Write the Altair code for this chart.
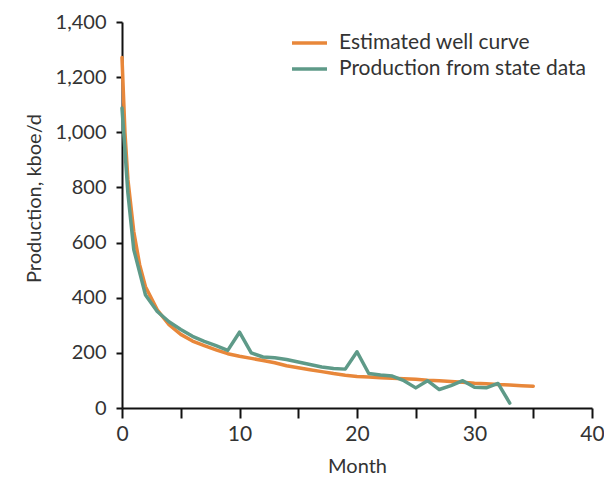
import altair as alt
import pandas as pd

# Estimated well curve (orange)
est_months = [0, 0.25, 0.5, 1, 1.5, 2, 3, 4, 5, 6, 7, 8, 9, 10, 11, 12, 13, 14, 15, 16, 17,
              18, 19, 20, 21, 22, 23, 24, 25, 26, 27, 28, 29, 30, 31, 32, 33, 34, 35]
est_values = [1271, 1000, 830, 640, 520, 440, 356, 302, 267, 243, 226, 211, 197, 188, 180, 172,
              164, 153, 146, 139, 132, 125, 119, 114, 112, 110, 108, 106, 104, 101, 99, 96, 93,
              90, 88, 85, 83, 81, 79]

# Production from state data (green)
prod_months = [0, 0.5, 1, 2, 3, 4, 5, 6, 7, 8, 9, 10, 11, 12, 13, 14, 15, 16, 17, 18, 19, 20,
               21, 22, 23, 24, 25, 26, 27, 28, 29, 30, 31, 32, 33]
prod_values = [1088, 780, 575, 410, 350, 313, 285, 260, 242, 226, 209, 275, 200, 185, 182, 176,
               167, 158, 149, 143, 141, 204, 125, 120, 116, 99, 73, 99, 67, 81, 99, 75, 73, 89, 18]

series_names = ["Estimated well curve", "Production from state data"]
series_colors = ["#E8873A", "#5E9A88"]

x_ticks = [0, 5, 10, 15, 20, 25, 30, 35, 40]
y_ticks = [0, 200, 400, 600, 800, 1000, 1200, 1400]

rows = []
for m, v in zip(est_months, est_values):
    rows.append({"Month": m, "Value": v, "Series": series_names[0], "order": 0})
for m, v in zip(prod_months, prod_values):
    rows.append({"Month": m, "Value": v, "Series": series_names[1], "order": 1})
df = pd.DataFrame(rows)

FONT = "Lato"

chart = alt.Chart(df).mark_line(strokeWidth=3.5, strokeCap="round", strokeJoin="round").encode(
    x=alt.X("Month:Q",
            scale=alt.Scale(domain=[0, 40], nice=False),
            axis=alt.Axis(values=x_ticks, title="Month",
                          labelExpr="datum.value % 10 == 0 ? datum.label : ''",
                          labelFlush=False, format="d", labelFontSize=21,
                          grid=False, tickSize=10, labelPadding=5,
                          titlePadding=12)),
    y=alt.Y("Value:Q",
            scale=alt.Scale(domain=[0, 1400], nice=False),
            axis=alt.Axis(values=y_ticks, format=",d", title="Production, kboe/d",
                          labelFlush=False, titleY=176, labelFontSize=20,
                          grid=False, tickSize=6, labelPadding=10, titlePadding=11)),
    color=alt.Color("Series:N",
                    scale=alt.Scale(domain=series_names, range=series_colors),
                    legend=alt.Legend(title=None, orient="none", legendX=168, legendY=13,
                                      symbolType="stroke", symbolSize=1225,
                                      symbolStrokeWidth=3.5, labelFontSize=21,
                                      labelFont=FONT, labelColor="#333333",
                                      labelLimit=0, clipHeight=16,
                                      labelOffset=10, rowPadding=5)),
    order=alt.Order("order:Q"),
    detail="Series:N",
).properties(
    width=470,
    height=386,
    autosize=alt.AutoSizeParams(type="none"),
    padding={"left": 114, "top": 14, "right": 12, "bottom": 69},
).configure_axis(
    domainColor="#111111",
    domainWidth=2,
    tickColor="#111111",
    tickWidth=2,
    labelFont=FONT,
    labelColor="#333333",
    titleFont=FONT,
    titleFontSize=20,
    titleFontWeight="normal",
    titleColor="#333333",
).configure_view(stroke=None)

chart.save("out.html", embed_options={"renderer": "svg", "actions": False})
